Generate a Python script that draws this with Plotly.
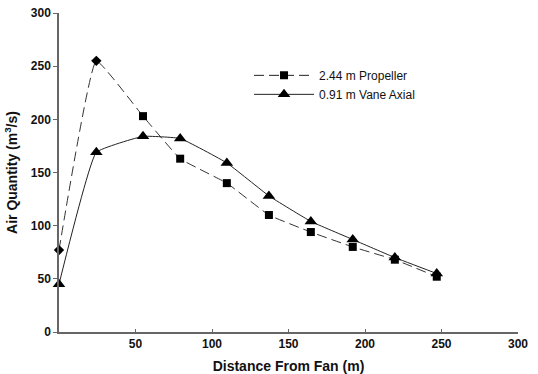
import plotly.graph_objects as go

distance = [0, 24.4, 54.9, 79.2, 109.7, 137.2, 164.6, 192.0, 219.5, 246.9]
propeller = [77, 255, 203, 163, 140, 110, 94, 80, 68, 52]
vane_axial = [45, 169, 184, 182, 159, 128, 104, 87, 70, 55]
prop_symbols = ["diamond", "diamond"] + ["square"] * 8

x_ticks = [50, 100, 150, 200, 250, 300]
y_ticks = [0, 50, 100, 150, 200, 250, 300]

fig = go.Figure()
fig.add_trace(go.Scatter(
    x=distance, y=propeller, name="2.44 m Propeller",
    mode="lines+markers", showlegend=False, legendgroup="p", cliponaxis=False,
    line=dict(color="#333", width=1, dash="10px,5px", shape="spline", smoothing=0.3),
    marker=dict(symbol=prop_symbols, size=8, color="black"),
))
fig.add_trace(go.Scatter(
    x=distance, y=vane_axial, name="0.91 m Vane Axial",
    mode="lines+markers", showlegend=False, legendgroup="v", cliponaxis=False,
    line=dict(color="#222", width=1, shape="spline", smoothing=0.3),
    marker=dict(symbol="triangle-up", size=11, color="black"),
))
# legend entries (no data)
fig.add_trace(go.Scatter(
    x=[None], y=[None], name="2.44 m Propeller", mode="lines+markers", legendgroup="p",
    line=dict(color="#222", width=1, dash="10px,5px"),
    marker=dict(symbol="square", size=8, color="black"),
))
fig.add_trace(go.Scatter(
    x=[None], y=[None], name="0.91 m Vane Axial", mode="lines+markers", legendgroup="v",
    line=dict(color="#222", width=1),
    marker=dict(symbol="triangle-up", size=11, color="black"),
))

axis_font = dict(family="Arial", size=12, color="#111", weight="bold")
fig.update_layout(
    width=538, height=374,
    margin=dict(l=59, r=20, t=13, b=42),
    paper_bgcolor="white", plot_bgcolor="white",
    showlegend=True,
    legend=dict(x=0.414, y=0.85, xanchor="left", yanchor="top",
                font=dict(family="Arial", size=12, color="#111"),
                bgcolor="rgba(0,0,0,0)", itemwidth=60, tracegroupgap=0),
    xaxis=dict(range=[0, 300], tickvals=x_ticks, showgrid=False, zeroline=False,
               showline=True, linecolor="#666", linewidth=1.5, automargin=False,
               ticks="inside", ticklen=3, tickcolor="#666",
               tickfont=axis_font,
               title=dict(text="Distance From Fan (m)", standoff=12,
                          font=dict(family="Arial", size=14, color="#111", weight="bold"))),
    yaxis=dict(range=[0, 300], tickvals=y_ticks, showgrid=False, zeroline=False,
               showline=True, linecolor="#666", linewidth=1.5, automargin=False,
               ticks="outside", ticklen=4, tickcolor="#666",
               tickfont=axis_font,
               title=dict(text="Air Quantity (m<sup>3</sup>/s)", standoff=10,
                          font=dict(family="Arial", size=14, color="#111", weight="bold"))),
)

fig.write_html("out.html")
